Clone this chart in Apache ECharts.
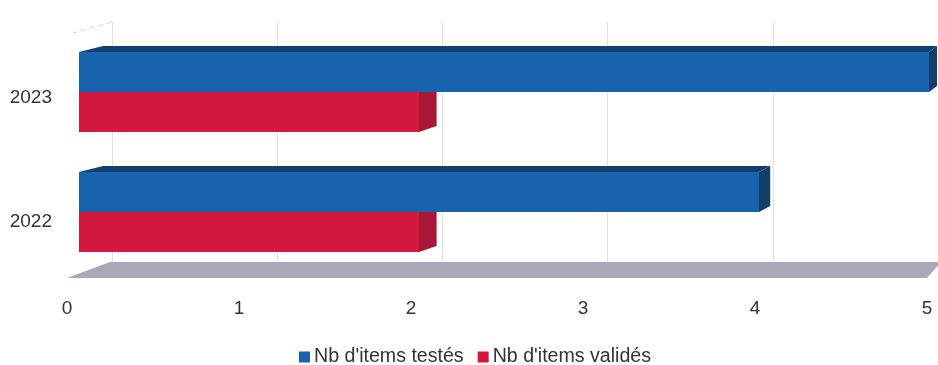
<!DOCTYPE html>
<html>
<head>
<meta charset="utf-8">
<script src="https://cdn.jsdelivr.net/npm/echarts@6/dist/echarts.min.js"></script>
<style>
  html, body { margin: 0; padding: 0; background: #fff; }
  #chart { width: 938px; height: 365px; }
</style>
</head>
<body>
<div id="chart"></div>
<script>
// Years shown on the category axis (bottom to top)
const categories = ['2022', '2023'];
// Number of items tested / validated per year
const testedValues = [4, 5];
const validatedValues = [2, 2];
// Value axis ticks
const tickValues = [0, 1, 2, 3, 4, 5];
const seriesNames = ["Nb d'items testés", "Nb d'items validés"];

const FONT = "'Liberation Sans', Arial, sans-serif";
const FONT_SIZE = 19;
const AXIS_MAX = tickValues[tickValues.length - 1];

// Perspective depth of the boxes: horizontal shift shrinks toward the right
const DEPTH_LEFT = 24, DEPTH_RIGHT = 8, DEPTH_UP = -6;
const BAR_FRACTION = 1 / 3;

const palette = {
  tested: { front: '#1763ad', top: '#0f406f', side: '#123f6a' },
  validated: { front: '#d2183d', top: '#a3142f', side: '#a8173a' }
};

function depthAt(v) {
  return DEPTH_LEFT + (DEPTH_RIGHT - DEPTH_LEFT) * v / AXIS_MAX;
}

function boxRenderer(colors, upper) {
  return function (params, api) {
    const v = api.value(0);
    const c = api.value(1);
    const start = api.coord([0, c]);
    const end = api.coord([v, c]);
    const h = api.size([0, 1])[1] * BAR_FRACTION;
    const yTop = upper ? start[1] - h : start[1];
    const yBot = yTop + h;
    const x0 = start[0], x1 = end[0];
    const d0 = depthAt(0), d1 = depthAt(v);
    return {
      type: 'group',
      children: [
        {
          type: 'polygon',
          shape: { points: [[x0, yTop], [x0 + d0, yTop + DEPTH_UP], [x1 + d1, yTop + DEPTH_UP], [x1, yTop]] },
          style: { fill: colors.top }
        },
        {
          type: 'polygon',
          shape: { points: [[x1, yTop], [x1 + d1, yTop + DEPTH_UP], [x1 + d1, yBot + DEPTH_UP], [x1, yBot]] },
          style: { fill: colors.side }
        },
        {
          type: 'rect',
          shape: { x: x0, y: yTop, width: x1 - x0, height: h },
          style: { fill: colors.front }
        }
      ]
    };
  };
}

// Grey floor plane under the bars
function floorRenderer(params, api) {
  const a = api.coord([0, 0]);
  const b = api.coord([AXIS_MAX, 0]);
  return {
    type: 'polygon',
    shape: { points: [[a[0], a[1]], [a[0] + 43, a[1] - 16], [b[0] + 14, b[1] - 16], [b[0], b[1]]] },
    style: { fill: '#a9a8b9' }
  };
}

// Faint top edge of the left side wall
function wallEdgeRenderer(params, api) {
  const p = api.coord([0, 1]);
  return {
    type: 'line',
    shape: { x1: p[0], y1: p[1], x2: p[0] - 39, y2: p[1] + 11 },
    style: { stroke: '#d8d8d8', lineWidth: 1, lineDash: [6, 3] }
  };
}

const chart = echarts.init(document.getElementById('chart'));
chart.setOption({
  animation: false,
  backgroundColor: '#ffffff',
  textStyle: { fontFamily: FONT },
  grid: [
    // front plane of the bars
    { left: 79, width: 850, top: 32, height: 240 },
    // floor / value labels
    { left: 67, width: 860, top: 32, height: 246 },
    // back wall with gridlines
    { left: 112, width: 835, top: 22, height: 240 },
    // year labels, set slightly lower like the perspective floor
    { left: 79, width: 850, top: 36, height: 248 }
  ],
  xAxis: [
    { gridIndex: 0, type: 'value', min: 0, max: AXIS_MAX, interval: 1, show: false },
    {
      gridIndex: 1, type: 'value', min: 0, max: AXIS_MAX, interval: 1,
      axisLine: { show: false }, axisTick: { show: false }, splitLine: { show: false },
      axisLabel: {
        margin: 21, fontSize: FONT_SIZE, color: '#333', fontFamily: FONT,
        formatter: function (v) { return tickValues.indexOf(v) >= 0 ? String(v) : ''; }
      }
    },
    {
      gridIndex: 2, type: 'value', min: 0, max: AXIS_MAX, interval: 1,
      axisLine: { show: false }, axisTick: { show: false }, axisLabel: { show: false },
      splitLine: { show: true, lineStyle: { color: '#e2e2e2', width: 1 } }
    },
    { gridIndex: 3, type: 'value', min: 0, max: AXIS_MAX, show: false }
  ],
  yAxis: [
    { gridIndex: 0, type: 'category', data: categories, show: false },
    { gridIndex: 1, type: 'value', min: 0, max: 1, show: false },
    { gridIndex: 2, type: 'value', min: 0, max: 1, show: false },
    {
      gridIndex: 3, type: 'category', data: categories,
      axisLine: { show: false }, axisTick: { show: false }, splitLine: { show: false },
      axisLabel: { margin: 27, fontSize: FONT_SIZE, color: '#333', fontFamily: FONT }
    }
  ],
  legend: {
    top: 342,
    left: 294,
    itemWidth: 11,
    itemHeight: 11,
    itemGap: 14,
    icon: 'rect',
    textStyle: { fontSize: 19.6, color: '#333', fontFamily: FONT, padding: [0, 0, 0, -1] },
    data: seriesNames
  },
  series: [
    {
      type: 'custom',
      xAxisIndex: 1, yAxisIndex: 1,
      renderItem: floorRenderer,
      data: [[0, 0]],
      silent: true,
      z: 1
    },
    {
      type: 'custom',
      xAxisIndex: 2, yAxisIndex: 2,
      renderItem: wallEdgeRenderer,
      data: [[0, 1]],
      silent: true,
      z: 1
    },
    {
      name: seriesNames[0],
      type: 'custom',
      xAxisIndex: 0, yAxisIndex: 0,
      itemStyle: { color: palette.tested.front },
      renderItem: boxRenderer(palette.tested, true),
      encode: { x: 0, y: 1 },
      data: testedValues.map(function (v, i) { return [v, i]; }),
      z: 4
    },
    {
      name: seriesNames[1],
      type: 'custom',
      xAxisIndex: 0, yAxisIndex: 0,
      itemStyle: { color: palette.validated.front },
      renderItem: boxRenderer(palette.validated, false),
      encode: { x: 0, y: 1 },
      data: validatedValues.map(function (v, i) { return [v, i]; }),
      z: 3
    }
  ]
});
</script>
</body>
</html>
